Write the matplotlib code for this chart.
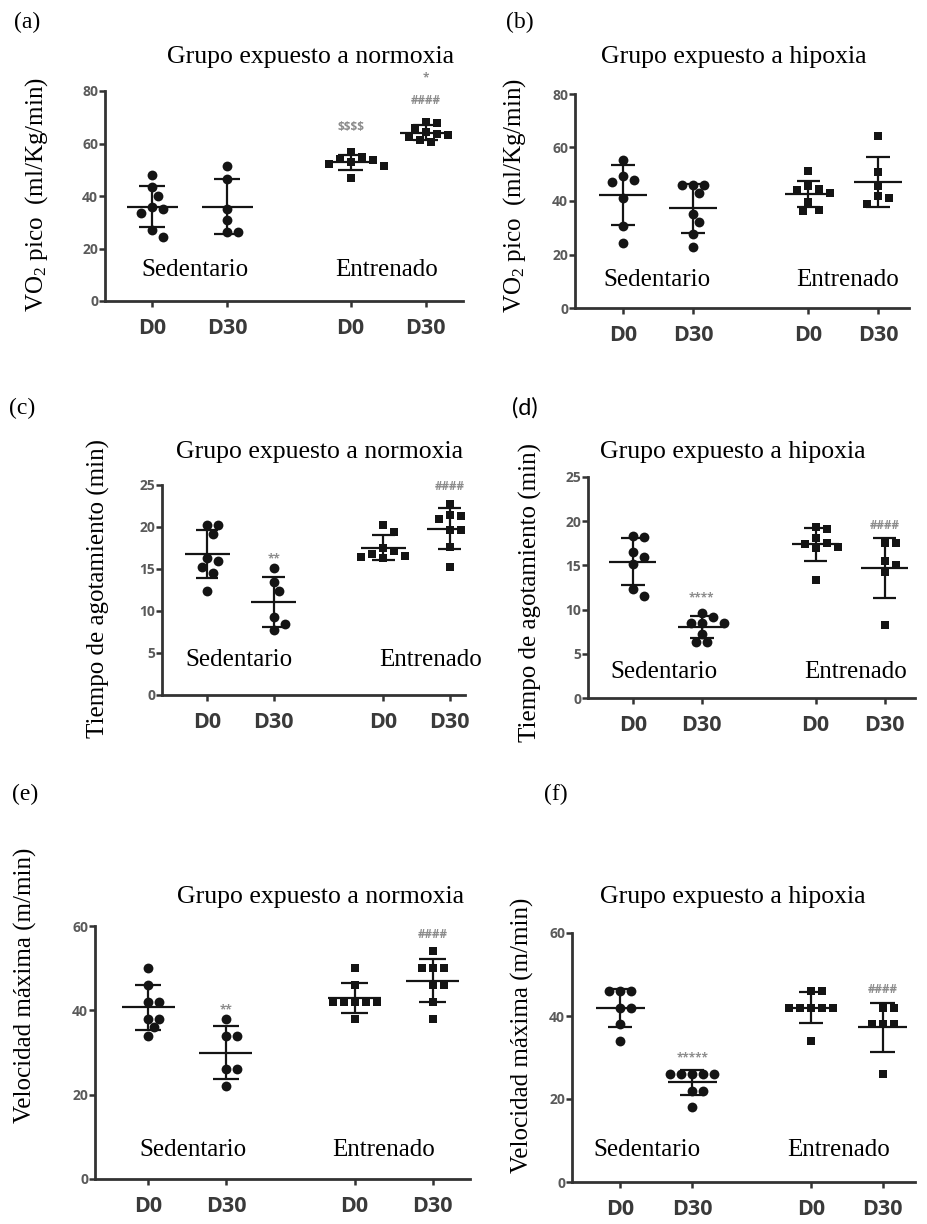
import numpy as np
import matplotlib
matplotlib.use("Agg")
import matplotlib.pyplot as plt

W, H = 928, 1224

GROUP_LABELS = ["D0", "D30", "D0", "D30"]
GROUP_POS = [0.0, 1.0, 2.65, 3.65]
MARKERS = ["o", "o", "s", "s"]

# (a) VO2 pico - normoxia  [Sed D0, Sed D30, Ent D0, Ent D30]
vo2_norm = [
    [48, 43.5, 40, 35, 36, 33.5, 27, 24.5],
    [51.3, 46.3, 35.2, 30.8, 26.1, 26.1],
    [56.8, 54.9, 54.2, 53.6, 53, 52.3, 51.3, 47],
    [68.2, 67.8, 66, 64.4, 63.8, 63.1, 62.5, 61.2, 60.6],
]
# (b) VO2 pico - hipoxia
vo2_hipo = [
    [55.5, 49.5, 47.7, 47, 41.1, 30.5, 24.3],
    [45.9, 45.9, 45.9, 43, 35.3, 32, 27.8, 22.7],
    [51.1, 45.5, 44.5, 44.2, 43, 39.5, 36.8, 36.1],
    [64.4, 50.7, 45.5, 41.7, 41.1, 38.9],
]
# (c) Tiempo de agotamiento - normoxia
tiempo_norm = [
    [20.2, 20.2, 19.2, 16.3, 16.0, 15.2, 14.5, 12.4],
    [15.1, 13.5, 12.4, 9.3, 8.5, 7.7],
    [20.2, 19.4, 17.5, 17.2, 16.8, 16.5, 16.4, 16.3],
    [22.7, 21.4, 21.3, 21.0, 19.6, 19.6, 17.6, 15.2],
]
# (d) Tiempo de agotamiento - hipoxia
tiempo_hipo = [
    [18.3, 18.2, 16.5, 16.0, 15.2, 12.3, 11.5],
    [9.6, 9.2, 8.5, 8.5, 8.5, 7.2, 6.3, 6.3],
    [19.4, 19.1, 18.1, 17.5, 17.4, 17.1, 17.0, 13.4],
    [17.5, 17.5, 15.5, 15.1, 14.2, 8.3],
]
# (e) Velocidad maxima - normoxia
vel_norm = [
    [50, 46, 42, 42, 38, 38, 36, 34],
    [38, 34, 34, 26, 26, 22],
    [50, 46, 42, 42, 42, 42, 42, 38],
    [54, 50, 50, 50, 46, 46, 42, 38],
]
# (f) Velocidad maxima - hipoxia
vel_hipo = [
    [46, 46, 46, 42, 42, 38, 34],
    [26, 26, 26, 26, 26, 22, 22, 18],
    [46, 46, 42, 42, 42, 42, 42, 34],
    [42, 42, 38, 38, 38, 26],
]

# significance marks: (group index, y value, text)
notes_a = [(2, 66, "$$$$"), (3, 76.4, "####"), (3, 85, "*")]
notes_b = []
notes_c = [(1, 16.2, "**"), (3, 24.8, "####")]
notes_d = [(1, 11.3, "****"), (3, 19.5, "####")]
notes_e = [(1, 40, "**"), (3, 58, "####")]
notes_f = [(1, 29.9, "*****"), (3, 46.3, "####")]

SERIF = ["Liberation Serif", "DejaVu Serif"]
SANS = ["Open Sans", "DejaVu Sans"]
INK = "#141414"
AXIS = "#333333"
NOTE = "#8c8c8c"

plt.rcParams["font.family"] = SERIF
plt.rcParams["mathtext.fontset"] = "custom"
plt.rcParams["mathtext.rm"] = "Liberation Serif"
plt.rcParams["mathtext.it"] = "Liberation Serif:italic"

VO2_LABEL = r"VO$_\mathrm{2}$ pico  (ml/Kg/min)"
T_LABEL = "Tiempo de agotamiento (min)"
V_LABEL = "Velocidad máxima (m/min)"

panels = [
    dict(data=vo2_norm, notes=notes_a, box=(105, 91, 463, 301), xlim=(-0.63, 4.15), ymax=80, ystep=20,
         title="Grupo expuesto a normoxia", title_xy=(311, 57), ylabel=VO2_LABEL, ylabel_xy=(37, 195),
         sed_xy=(195, 270), ent_xy=(387, 270), letter="(a)", letter_xy=(27, 22), letter_font=SERIF),
    dict(data=vo2_hipo, notes=notes_b, box=(575, 94, 909, 308), xlim=(-0.69, 4.09), ymax=80, ystep=20,
         title="Grupo expuesto a hipoxia", title_xy=(734, 57), ylabel=VO2_LABEL, ylabel_xy=(515, 196),
         sed_xy=(657, 280), ent_xy=(848, 280), letter="(b)", letter_xy=(520, 22), letter_font=SERIF),
    dict(data=tiempo_norm, notes=notes_c, box=(162, 485, 465, 695), xlim=(-0.68, 3.88), ymax=25, ystep=5,
         title="Grupo expuesto a normoxia", title_xy=(320, 452), ylabel=T_LABEL, ylabel_xy=(98, 588),
         sed_xy=(239, 660), ent_xy=(431, 660), letter="(c)", letter_xy=(22, 408), letter_font=SERIF),
    dict(data=tiempo_hipo, notes=notes_d, box=(588, 477, 915, 698), xlim=(-0.65, 4.09), ymax=25, ystep=5,
         title="Grupo expuesto a hipoxia", title_xy=(733, 452), ylabel=T_LABEL, ylabel_xy=(530, 592),
         sed_xy=(664, 672), ent_xy=(856, 672), letter="(d)", letter_xy=(525, 408), letter_font=["Lato", "DejaVu Sans"]),
    dict(data=vel_norm, notes=notes_e, box=(95, 926, 470, 1179), xlim=(-0.68, 4.13), ymax=60, ystep=20,
         title="Grupo expuesto a normoxia", title_xy=(321, 897), ylabel=V_LABEL, ylabel_xy=(25, 985),
         sed_xy=(193, 1150), ent_xy=(384, 1150), letter="(e)", letter_xy=(25, 794), letter_font=SERIF),
    dict(data=vel_hipo, notes=notes_f, box=(572, 933, 915, 1182), xlim=(-0.67, 4.1), ymax=60, ystep=20,
         title="Grupo expuesto a hipoxia", title_xy=(733, 897), ylabel=V_LABEL, ylabel_xy=(522, 1035),
         sed_xy=(647, 1150), ent_xy=(839, 1150), letter="(f)", letter_xy=(556, 794), letter_font=SERIF),
]


def fxy(x, y):
    return x / W, 1 - y / H


def swarm_offsets(values, px_x, px_y, diam=10.0):
    """Simple beeswarm: offsets (in data-x units) so markers don't overlap."""
    order = np.argsort(values)[::-1]
    placed = []
    offsets = np.zeros(len(values))
    step = diam * 0.55
    for i in order:
        yp = values[i] * px_y
        k = 0
        while True:
            cand = 0.0 if k == 0 else ((k + 1) // 2) * step * (1 if k % 2 else -1)
            if all(np.hypot(cand - xo, yp - yo) >= diam * 0.95 for xo, yo in placed):
                break
            k += 1
        placed.append((cand, yp))
        offsets[i] = cand / px_x
    return offsets


fig = plt.figure(figsize=(W / 100, H / 100), dpi=100)
fig.patch.set_facecolor("white")

for p in panels:
    l, t, r, b = p["box"]
    ax = fig.add_axes([l / W, 1 - b / H, (r - l) / W, (b - t) / H])
    ax.set_xlim(*p["xlim"])
    ax.set_ylim(0, p["ymax"])
    px_x = (r - l) / (p["xlim"][1] - p["xlim"][0])
    px_y = (b - t) / p["ymax"]

    for gi, vals in enumerate(p["data"]):
        vals = np.asarray(vals, dtype=float)
        x0 = GROUP_POS[gi]
        xs = x0 + swarm_offsets(vals, px_x, px_y)
        size = 50 if MARKERS[gi] == "o" else 40
        ax.scatter(xs, vals, marker=MARKERS[gi], s=size, color=INK, zorder=2, clip_on=False, linewidths=0)
        m, sd = vals.mean(), vals.std(ddof=1)
        ax.hlines(m, x0 - 0.34, x0 + 0.34, color=INK, lw=1.6, zorder=3)
        ax.hlines([m - sd, m + sd], x0 - 0.17, x0 + 0.17, color=INK, lw=1.6, zorder=3)
        ax.vlines(x0, m - sd, m + sd, color=INK, lw=1.6, zorder=3)

    for gi, yv, txt in p["notes"]:
        ax.text(GROUP_POS[gi], yv, txt, ha="center", va="center", fontsize=8.5, color=NOTE,
                family=SANS, fontweight="bold", parse_math=False, clip_on=False)

    for side in ("top", "right"):
        ax.spines[side].set_visible(False)
    for side in ("left", "bottom"):
        ax.spines[side].set_linewidth(2.0)
        ax.spines[side].set_color(AXIS)

    ax.set_yticks(np.arange(0, p["ymax"] + 0.1, p["ystep"]))
    ax.set_xticks(GROUP_POS)
    ax.set_xticklabels(GROUP_LABELS)
    ax.tick_params(axis="y", length=4, width=1.8, color=AXIS, pad=1, labelsize=10, labelcolor="#5a5a5a")
    ax.tick_params(axis="x", length=4, width=1.8, color=AXIS, pad=8, labelsize=15.5, labelcolor="#3a3a3a")
    for lab in ax.get_yticklabels() + ax.get_xticklabels():
        lab.set_family(SANS)
        lab.set_fontweight("bold")

    fig.text(*fxy(*p["title_xy"]), p["title"], ha="center", va="center", fontsize=18.5)
    fig.text(*fxy(*p["ylabel_xy"]), p["ylabel"], ha="center", va="center", rotation=90, fontsize=18)
    fig.text(*fxy(*p["sed_xy"]), "Sedentario", ha="center", va="center", fontsize=18)
    fig.text(*fxy(*p["ent_xy"]), "Entrenado", ha="center", va="center", fontsize=18)
    fig.text(*fxy(*p["letter_xy"]), p["letter"], ha="center", va="center", fontsize=17, family=p["letter_font"])

fig.savefig("out.png", dpi=100, facecolor="white")
